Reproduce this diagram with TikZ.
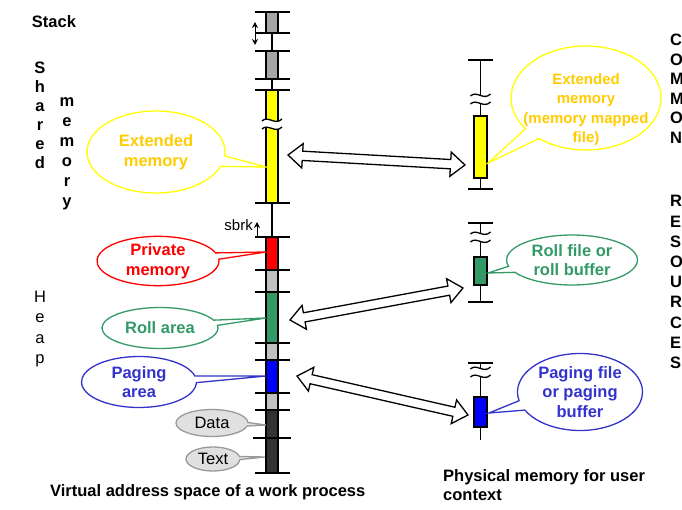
\documentclass[tikz,border=0pt]{standalone}
\usepackage{fontspec}
\setmainfont{Liberation Sans}
\usetikzlibrary{shapes.callouts,shapes.arrows,calc,arrows.meta}

\definecolor{extyel}{HTML}{FFFF00}
\definecolor{exttxt}{HTML}{FFCC00}
\definecolor{privred}{HTML}{FF0000}
\definecolor{rollgrn}{HTML}{339966}
\definecolor{pageblu}{HTML}{0000FF}
\definecolor{pagetxt}{HTML}{3333CC}
\definecolor{stkgray}{HTML}{A6A6A6}
\definecolor{gapgray}{HTML}{C0C0C0}
\definecolor{codegray}{HTML}{333333}
\definecolor{bubgray}{HTML}{E0E0E0}
\definecolor{bubline}{HTML}{999999}

\tikzset{
  lbl/.style={font=\fontsize{16.5}{19.5}\selectfont\bfseries, inner sep=0pt},
  plainlbl/.style={font=\fontsize{16.5}{19.5}\selectfont, inner sep=0pt},
  bubble/.style={ellipse callout, line width=1.3pt, inner sep=0pt, align=center,
    font=\fontsize{16.5}{19.5}\selectfont\bfseries},
  barseg/.style={draw=black, line width=1.4pt},
  bartick/.style={line width=1.4pt},
  bigarrow/.style={double arrow, draw=black, fill=white, line width=1.3pt, inner sep=4pt,
    double arrow head extend=7.5pt, double arrow tip angle=80},
  wavebreak/.pic={
    \fill[white] (-10,-4) .. controls (-4,-10) and (3,1) .. (10,-6) -- (10,2)
      .. controls (3,9) and (-4,-2) .. (-10,4) -- cycle;
    \draw[line width=1.3pt] (-10,-4) .. controls (-4,-10) and (3,1) .. (10,-6);
    \draw[line width=1.3pt] (-10,4) .. controls (-4,-2) and (3,9) .. (10,2);
  }
}

\begin{document}
\begin{tikzpicture}[x=1pt, y=-1pt]
  \useasboundingbox (0,0) rectangle (682,510);
  \clip (0,0) rectangle (682,510);

  % ---- side labels ----
  \node[lbl, anchor=base] (stack) at (54,27.5) {Stack};
  \foreach \ch [count=\i from 0] in {S,h,a,r,e,d}
    \node[lbl, anchor=base] (shd\i) at (40,74+19*\i) {\ch};
  \foreach \ch [count=\i from 0] in {m,e,m,o,r,y}
    \node[lbl, anchor=base] (mem\i) at (67,107+20*\i) {\ch};
  \foreach \ch [count=\i from 0] in {H,e,a,p}
    \node[plainlbl, anchor=base] (heap\i) at (40,303+20*\i) {\ch};
  \foreach \ch [count=\i from 0] in {C,O,M,M,O,N}
    \node[lbl, anchor=base west] (com\i) at (670,46+19.5*\i) {\ch};
  \foreach \ch [count=\i from 0] in {R,E,S,O,U,R,C,E,S}
    \node[lbl, anchor=base west] (res\i) at (670,207+20.2*\i) {\ch};

  % ---- virtual address space bar ----
  \draw[bartick] (272,12) -- (272,473);
  \foreach \ya/\yb/\col in {12/33/stkgray, 51/79/stkgray, 90/203/extyel, 237/270/privred,
      270/292/gapgray, 292/343/rollgrn, 343/360/gapgray, 360/393/pageblu,
      393/410/gapgray, 410/473/codegray} {
    \filldraw[barseg, fill=\col] (266,\ya) rectangle (278,\yb);
  }
  \foreach \yt in {12,33,51,79,90,203,237,270,292,343,360,393,410,473} {
    \draw[bartick] (255,\yt) -- (290,\yt);
  }
  \draw[line width=2.2pt] (253,438) -- (291,438);
  \pic at (272,125) {wavebreak};

  \coordinate (stk-up) at (255,22);
  \coordinate (stk-dn) at (255,45);
  \draw[line width=1pt, {Stealth[length=6pt,width=6pt]}-{Stealth[length=6pt,width=6pt]}] (stk-up) -- (stk-dn);
  \coordinate (sbrk-lo) at (257,236);
  \coordinate (sbrk-hi) at (257,222);
  \draw[line width=1pt, -{Stealth[length=6pt,width=6pt]}] (sbrk-lo) -- (sbrk-hi);
  \node[plainlbl, font=\fontsize{15}{18}\selectfont, anchor=base east] (sbrk) at (253,231) {sbrk};

  % ---- physical memory bars ----
  \foreach \ytop/\ya/\yb/\ybot/\ywav/\col in {60/116/178/189/100/extyel,
      223/257/285/302/238/rollgrn, 363/397/427/440/373/pageblu} {
    \draw[bartick] (480.5,\ytop) -- (480.5,\ybot);
    \draw[bartick] (468,\ytop) -- (493,\ytop);
    \filldraw[barseg, fill=\col] (474,\ya) rectangle (487,\yb);
    \pic at (480.5,\ywav) {wavebreak};
  }
  \draw[bartick] (468,189) -- (493,189);
  \draw[bartick] (468,302) -- (493,302);

  % ---- callouts on the virtual side ----
  \coordinate (ext-vtip) at (266,167);
  \coordinate (priv-tip) at (266,252);
  \coordinate (roll-vtip) at (266,318);
  \coordinate (page-vtip) at (266,376);
  \coordinate (data-tip) at (266,425);
  \coordinate (text-tip) at (265,457);
  \node[bubble, draw=extyel, text=exttxt, minimum width=138, minimum height=82,
    callout absolute pointer=(ext-vtip)] (ext-v) at (156,152) {Extended\\memory};
  \node[bubble, draw=privred, text=privred, minimum width=122, minimum height=48,
    callout absolute pointer=(priv-tip)] (priv-v) at (158,261) {Private\\memory};
  \node[bubble, draw=rollgrn, text=rollgrn, minimum width=116, minimum height=41,
    callout absolute pointer=(roll-vtip)] (roll-v) at (160,328) {Roll area};
  \node[bubble, draw=pagetxt, text=pagetxt, minimum width=115, minimum height=51,
    callout absolute pointer=(page-vtip)] (page-v) at (139,382) {Paging\\area};
  \node[bubble, draw=bubline, fill=bubgray, font=\fontsize{16.5}{19.5}\selectfont,
    minimum width=72, minimum height=27, callout absolute pointer=(data-tip)] (data-v) at (212,423) {Data};
  \node[bubble, draw=bubline, fill=bubgray, font=\fontsize{16.5}{19.5}\selectfont,
    minimum width=54, minimum height=24, callout absolute pointer=(text-tip)] (text-v) at (213,459) {Text};

  % ---- callouts on the physical side ----
  \coordinate (ext-ptip) at (488,163);
  \coordinate (roll-ptip) at (488,273);
  \coordinate (page-ptip) at (489,413);
  \node[bubble, draw=extyel, text=exttxt, font=\fontsize{15}{19.5}\selectfont\bfseries,
    text height=93pt, inner xsep=-10pt, inner ysep=-13pt, minimum width=150, minimum height=104,
    callout absolute pointer=(ext-ptip)] (ext-p) at (586,98) {Extended\\memory\\(memory mapped\\file)};
  \node[bubble, draw=rollgrn, text=rollgrn, minimum width=131, minimum height=50,
    callout absolute pointer=(roll-ptip)] (roll-p) at (572,260) {Roll file or\\roll buffer};
  \node[bubble, draw=pagetxt, text=pagetxt, minimum width=125, minimum height=77,
    callout absolute pointer=(page-ptip)] (page-p) at (580,392) {Paging file\\or paging\\buffer};

  % ---- mapping arrows ----
  \coordinate (ext-l) at (288,155);
  \coordinate (ext-r) at (465,165);
  \coordinate (roll-l) at (290,320);
  \coordinate (roll-r) at (463,288);
  \coordinate (page-l) at (297,376);
  \coordinate (page-r) at (468,415);
  \foreach \zone in {ext,roll,page} {
    \path let \p1=($(\zone-r)-(\zone-l)$), \n1={atan2(\y1,\x1)}, \n2={veclen(\x1,\y1)} in
      node[bigarrow, rotate=\n1, minimum height=\n2] (\zone-arrow) at ($(\zone-l)!0.5!(\zone-r)$) {};
  }

  % ---- captions ----
  \node[lbl, anchor=base west] (virt-cap) at (50,496) {Virtual address space of a work process};
  \node[lbl, anchor=north west, align=left] (phys-cap) at (443,469) {Physical memory for user\\context};
\end{tikzpicture}
\end{document}
